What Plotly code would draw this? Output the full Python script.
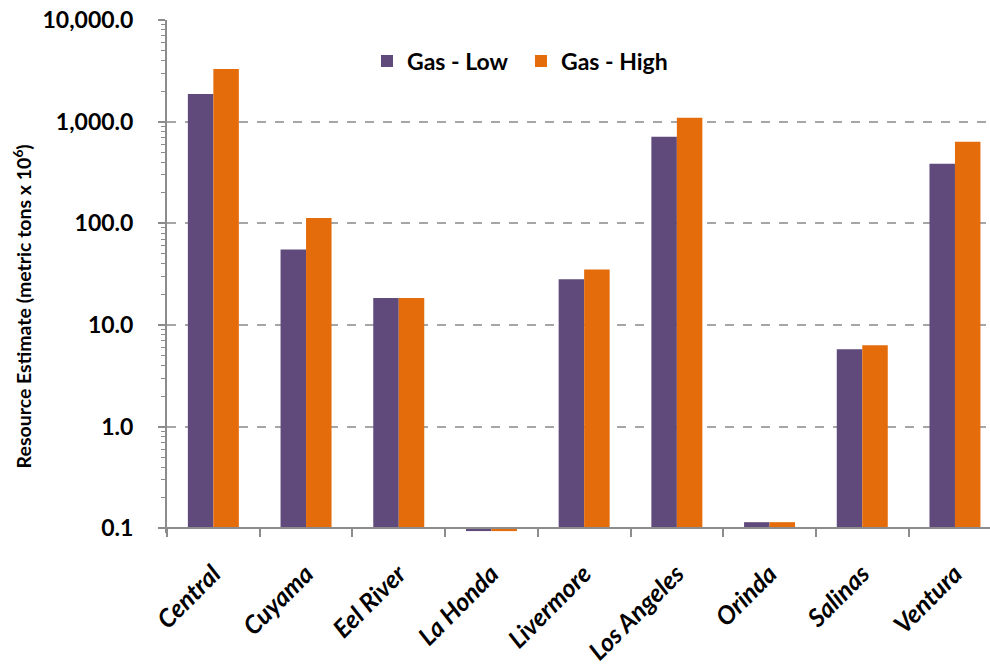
import math
import plotly.graph_objects as go

# Basin names and resource estimates (metric tons x 10^6)
basins = ["Central", "Cuyama", "Eel River", "La Honda", "Livermore",
          "Los Angeles", "Orinda", "Salinas", "Ventura"]
gas_low = [1870, 55.4, 18.4, 0.094, 28.2, 710, 0.115, 5.78, 385]
gas_high = [3300, 113, 18.4, 0.094, 35.2, 1090, 0.115, 6.33, 634]

# Axis tick values and labels
y_tick_vals = [0.1, 1, 10, 100, 1000, 10000]
y_tick_text = ["0.1", "1.0", "10.0", "100.0", "1,000.0", "10,000.0"]

PURPLE = "#604A7B"
ORANGE = "#E46C0A"
AXIS_GRAY = "#8C8C8C"
GRID_GRAY = "#A6A6A6"
FONT = "Lato"

# bars grow from the 0.1 floor of the log axis
floor = 0.1
y_min_log = math.log10(0.09)
y_max_log = 4.0

fig = go.Figure()
for name, vals, color in [("Gas - Low", gas_low, PURPLE),
                          ("Gas - High", gas_high, ORANGE)]:
    fig.add_trace(go.Bar(
        x=basins,
        y=[v - floor for v in vals],
        base=floor,
        name=name,
        marker=dict(color=color, line=dict(width=0)),
        customdata=vals,
        hovertemplate="%{x}: %{customdata}<extra>" + name + "</extra>",
    ))

minor_vals = [m * 10 ** e for e in range(-1, 4) for m in range(2, 10)]

# x axis sits on the 0.1 line, slightly above the bottom of the plot area
x_axis_pos = (math.log10(floor) - y_min_log) / (y_max_log - y_min_log)

fig.update_layout(
    width=990,
    height=665,
    margin=dict(l=167, r=0, t=20, b=132),
    plot_bgcolor="white",
    paper_bgcolor="white",
    barmode="group",
    bargap=0.45,
    bargroupgap=0,
    font=dict(family=FONT, color="black"),
    showlegend=True,
    legend=dict(
        orientation="h",
        x=0.243, xanchor="left",
        y=0.92, yanchor="middle",
        font=dict(family=FONT, size=23, weight="bold"),
        bgcolor="rgba(0,0,0,0)",
        entrywidth=109,
        itemclick=False,
    ),
    xaxis=dict(
        type="category",
        range=[-0.5, 8.378],
        anchor="free",
        position=x_axis_pos,
        showline=True,
        linecolor=AXIS_GRAY,
        linewidth=2,
        ticks="outside",
        tickson="boundaries",
        ticklen=8,
        tickwidth=2,
        tickcolor=AXIS_GRAY,
        tickangle=-45,
        ticklabelstandoff=20,
        ticklabelshift=0,
        tickfont=dict(family=FONT, size=25, weight="bold", style="italic"),
        showgrid=False,
        zeroline=False,
    ),
    yaxis=dict(
        type="log",
        range=[y_min_log, y_max_log],
        domain=[0, 1],
        tickmode="array",
        tickvals=y_tick_vals,
        ticktext=y_tick_text,
        tickfont=dict(family=FONT, size=23, weight="bold"),
        ticks="outside",
        ticklen=7,
        tickwidth=1.5,
        tickcolor=AXIS_GRAY,
        ticklabelstandoff=20,
        showline=True,
        linecolor=AXIS_GRAY,
        linewidth=2,
        showgrid=True,
        gridcolor=GRID_GRAY,
        griddash="dash",
        gridwidth=1.5,
        zeroline=False,
        minor=dict(
            tickmode="array",
            tickvals=minor_vals,
            ticks="outside",
            ticklen=4,
            tickwidth=1,
            tickcolor=AXIS_GRAY,
            showgrid=False,
        ),
    ),
    annotations=[dict(
        text="<b>Resource Estimate (metric tons x 10<sup>6</sup>)</b>",
        xref="paper", yref="paper",
        x=-0.176, y=0.442,
        xanchor="center", yanchor="middle",
        textangle=-90,
        showarrow=False,
        font=dict(family=FONT, size=19.5, weight=900),
    )],
)

fig.write_html("out.html")
